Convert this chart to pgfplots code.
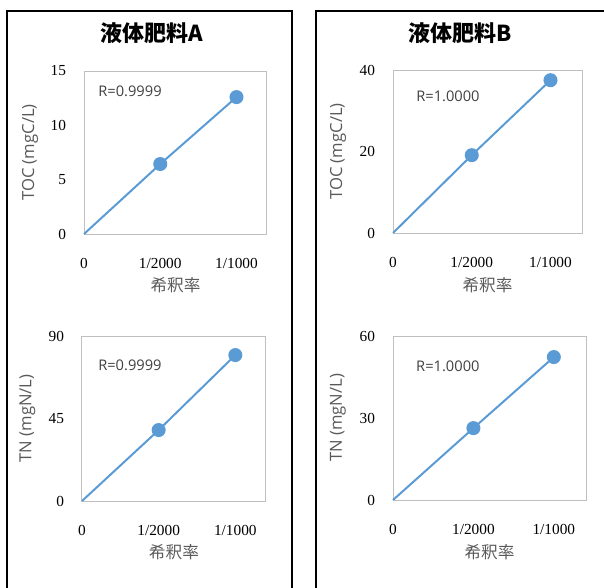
\documentclass[border=0pt]{standalone}
\usepackage{fontspec}
\setmainfont{Liberation Serif}
\newfontfamily\osans{Open Sans}
\newfontfamily\jp{Noto Sans CJK JP}
\usepackage{pgfplots}
\pgfplotsset{compat=1.18}
\definecolor{serblue}{HTML}{5B9BD5}
\definecolor{frm}{HTML}{BFBFBF}
\definecolor{lbl}{HTML}{595959}

\tikzset{rtext/.style={anchor=west, inner sep=0pt, font=\osans\fontsize{11}{13}\selectfont, text=black!75}}
\pgfplotsset{panel/.style={
    scale only axis, anchor=south west,
    xmin=0, xmax=1.2, ymin=0,
    axis line style={frm, line width=0.75pt},
    major tick length=0pt,
    xtick={0,0.5,1}, xticklabels={0,1/2000,1/1000},
    /pgf/number format/assume math mode=true,
    tick label style={font=\fontsize{11.5}{12}\selectfont, text=black},
    xticklabel style={anchor=center, yshift=-21.75pt},
    yticklabel style={xshift=-10pt},
    label style={font=\fontsize{12.5}{14}\selectfont, text=lbl},
    xlabel={\jp 希釈率},
    clip=false,
  },
  serplot/.style={serblue, line width=1.5pt, mark=*, mark indices={2,3}, mark size=4.5pt,
    mark options={solid, fill=serblue, draw=serblue}},
}

\begin{document}
\begin{tikzpicture}
\useasboundingbox (0,0) rectangle (453pt,440.25pt);
\clip (0,0) rectangle (453pt,440.25pt);
\draw[line width=1.5pt] (5.25pt,-10pt) rectangle (219pt,432pt);
\draw[line width=1.5pt] (237pt,-10pt) rectangle (470pt,432pt);
\node[font=\jp\bfseries\fontsize{16.5}{18}\selectfont] at (114pt,415.5pt) {液体肥料A};
\node[font=\jp\bfseries\fontsize{16.5}{18}\selectfont] at (345pt,415.5pt) {液体肥料B};

% 液体肥料A TOC
\begin{axis}[panel, at={(63pt,264.75pt)}, width=137.25pt, height=122.25pt,
    ymax=15, ytick={0,5,10,15},
    ylabel={\osans TOC (mgC/L)},
    ylabel style={at={(axis description cs:-0.295,0.5)}, anchor=center},
    xlabel style={at={(axis description cs:0.5,-0.313)}, anchor=center}]
  \addplot[serplot] coordinates {(0,0) (0.5,6.44) (1,12.6)};
  \node[rtext] at (rel axis cs:0.077,0.877) {R=0.9999};
\end{axis}

% 液体肥料A TN
\begin{axis}[panel, at={(61.5pt,64.5pt)}, width=138pt, height=123.75pt,
    ymax=90, ytick={0,45,90},
    ylabel={\osans TN (mgN/L)},
    ylabel style={at={(axis description cs:-0.296,0.5)}, anchor=center},
    xlabel style={at={(axis description cs:0.5,-0.31)}, anchor=center}]
  \addplot[serplot] coordinates {(0,0) (0.5,38.7) (1,79.6)};
  \node[rtext] at (rel axis cs:0.087,0.824) {R=0.9999};
\end{axis}

% 液体肥料B TOC
\begin{axis}[panel, at={(294.75pt,265.5pt)}, width=141.75pt, height=122.25pt,
    ymax=40, ytick={0,20,40},
    ylabel={\osans TOC (mgC/L)},
    ylabel style={at={(axis description cs:-0.29,0.5)}, anchor=center},
    xlabel style={at={(axis description cs:0.5,-0.319)}, anchor=center}]
  \addplot[serplot] coordinates {(0,0) (0.5,19.1) (1,37.5)};
  \node[rtext] at (rel axis cs:0.122,0.836) {R=1.0000};
\end{axis}

% 液体肥料B TN
\begin{axis}[panel, at={(294.75pt,65.25pt)}, width=144.75pt, height=123pt,
    ymax=60, ytick={0,30,60},
    ylabel={\osans TN (mgN/L)},
    ylabel style={at={(axis description cs:-0.285,0.5)}, anchor=center},
    xlabel style={at={(axis description cs:0.5,-0.317)}, anchor=center}]
  \addplot[serplot] coordinates {(0,0) (0.5,26.3) (1,52.3)};
  \node[rtext] at (rel axis cs:0.119,0.813) {R=1.0000};
\end{axis}
\end{tikzpicture}
\end{document}
